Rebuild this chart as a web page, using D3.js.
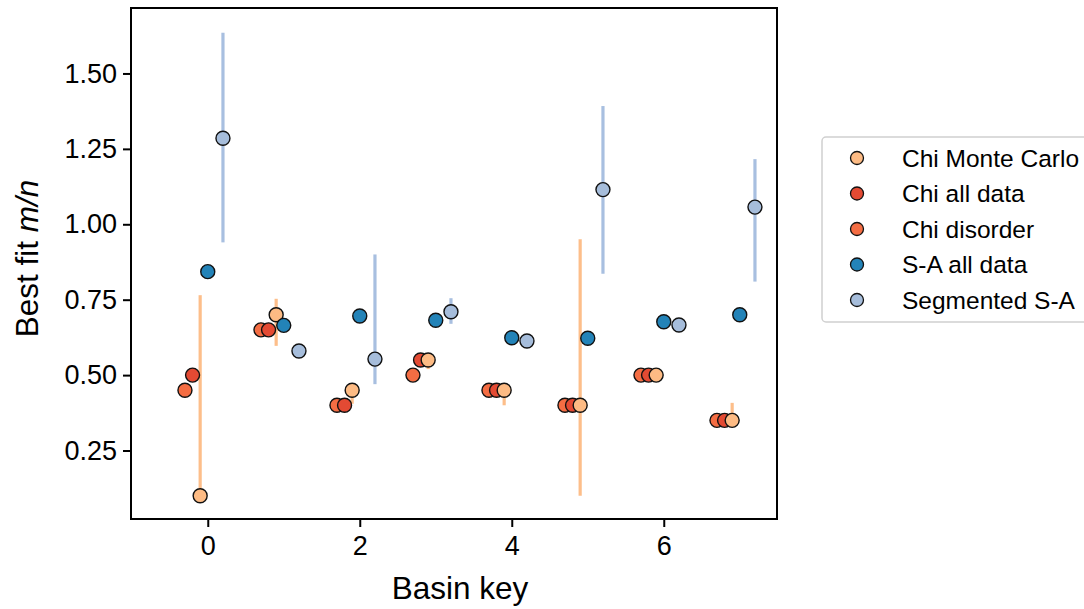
<!DOCTYPE html>
<html>
<head>
<meta charset="utf-8">
<script src="https://cdn.jsdelivr.net/npm/d3@7"></script>
<style>
  body { margin: 0; background: #fff; }
  svg { font-family: "Liberation Sans", Arial, sans-serif; }
</style>
</head>
<body>
<script>
const basinKeys = [0, 1, 2, 3, 4, 5, 6, 7];

const chiMonteCarlo = [0.10, 0.70, 0.45, 0.55, 0.45, 0.40, 0.50, 0.35];
const chiMonteCarloLow = [0.10, 0.597, 0.405, 0.52, 0.40, 0.10, 0.50, 0.35];
const chiMonteCarloHigh = [0.765, 0.753, 0.45, 0.55, 0.45, 0.95, 0.50, 0.408];
const chiAllData = [0.50, 0.65, 0.40, 0.55, 0.45, 0.40, 0.50, 0.35];
const chiDisorder = [0.45, 0.65, 0.40, 0.50, 0.45, 0.40, 0.50, 0.35];
const saAllData = [0.843, 0.665, 0.696, 0.682, 0.624, 0.622, 0.677, 0.70];
const segmentedSA = [1.285, 0.58, 0.553, 0.71, 0.613, 1.115, 0.666, 1.057];
const segmentedLow = [0.94, null, 0.47, 0.67, null, 0.836, null, 0.81];
const segmentedHigh = [1.635, null, 0.90, 0.755, null, 1.392, null, 1.216];

const yTicks = [0.25, 0.50, 0.75, 1.00, 1.25, 1.50];
const xTicks = [0, 2, 4, 6];

// draw order matches the picture, legend order is different
const series = [
  { name: 'Chi disorder', values: chiDisorder, offset: -0.3, color: '#f46d43' },
  { name: 'Chi all data', values: chiAllData, offset: -0.2, color: '#e34a33' },
  { name: 'Chi Monte Carlo', values: chiMonteCarlo, offset: -0.1, color: '#fdbb84',
    low: chiMonteCarloLow, high: chiMonteCarloHigh, barColor: '#fdbb84' },
  { name: 'S-A all data', values: saAllData, offset: 0, color: '#2383b8' },
  { name: 'Segmented S-A', values: segmentedSA, offset: 0.2, color: '#a6bddb',
    low: segmentedLow, high: segmentedHigh, barColor: '#a3bcde' }
];
const legendOrder = ['Chi Monte Carlo', 'Chi all data', 'Chi disorder', 'S-A all data', 'Segmented S-A'];

const width = 1084, height = 609;
const plotLeft = 131, plotRight = 777, plotTop = 8, plotBottom = 519;

const svg = d3.select('body').append('svg')
  .attr('width', width)
  .attr('height', height);

const x = d3.scaleLinear().domain([-1.01, 7.49]).range([plotLeft, plotRight]);
const y = d3.scaleLinear().domain([0.023, 1.717]).range([plotBottom, plotTop]);

// error bars first, circles on top
series.filter(s => s.low).forEach(s => {
  const bars = basinKeys.map((k, i) => ({ k: k, lo: s.low[i], hi: s.high[i] }))
    .filter(d => d.lo != null && d.hi - d.lo > 0.001);
  svg.append('g').selectAll('line')
    .data(bars)
    .enter()
    .append('line')
    .attr('x1', d => x(d.k + s.offset))
    .attr('x2', d => x(d.k + s.offset))
    .attr('y1', d => y(d.lo))
    .attr('y2', d => y(d.hi))
    .attr('stroke', s.barColor)
    .attr('stroke-opacity', 0.95)
    .attr('stroke-width', 3.2);
});

series.forEach(s => {
  svg.append('g').selectAll('circle')
    .data(basinKeys.map((k, i) => ({ k: k, v: s.values[i] })))
    .enter()
    .append('circle')
    .attr('cx', d => x(d.k + s.offset))
    .attr('cy', d => y(d.v))
    .attr('r', 7)
    .attr('fill', s.color)
    .attr('stroke', '#111')
    .attr('stroke-width', 1.4);
});

// axes
const xAxis = svg.append('g')
  .attr('transform', `translate(0,${plotBottom})`)
  .call(d3.axisBottom(x).tickValues(xTicks).tickFormat(d3.format('d')).tickSize(8).tickPadding(9));
const yAxis = svg.append('g')
  .attr('transform', `translate(${plotLeft},0)`)
  .call(d3.axisLeft(y).tickValues(yTicks).tickFormat(d3.format('.2f')).tickSize(8).tickPadding(6));

[xAxis, yAxis].forEach(a => {
  a.select('.domain').remove();
  a.selectAll('line').attr('stroke', '#000').attr('stroke-width', 2);
  a.selectAll('text').attr('font-size', 27).attr('fill', '#000')
    .attr('font-family', '"Liberation Sans", Arial, sans-serif');
});

svg.append('rect')
  .attr('x', plotLeft).attr('y', plotTop)
  .attr('width', plotRight - plotLeft).attr('height', plotBottom - plotTop)
  .attr('fill', 'none').attr('stroke', '#000').attr('stroke-width', 2);

svg.append('text')
  .attr('x', (plotLeft + plotRight) / 2 + 6)
  .attr('y', 599)
  .attr('text-anchor', 'middle')
  .attr('font-size', 31.5)
  .text('Basin key');

const yLabel = svg.append('text')
  .attr('transform', `translate(38,${(plotTop + plotBottom) / 2 - 5}) rotate(-90)`)
  .attr('text-anchor', 'middle')
  .attr('font-size', 31.5);
yLabel.append('tspan').text('Best fit ');
yLabel.append('tspan').attr('font-style', 'italic').text('m/n');

// legend
const legend = svg.append('g');
legend.append('rect')
  .attr('x', 822).attr('y', 137)
  .attr('width', 280).attr('height', 185)
  .attr('rx', 4)
  .attr('fill', '#fff')
  .attr('stroke', '#d0d0d0')
  .attr('stroke-width', 1.5);

const legendItems = legendOrder.map(n => series.find(s => s.name === n));
const rows = legend.selectAll('g.row')
  .data(legendItems)
  .enter()
  .append('g')
  .attr('transform', (d, i) => `translate(0,${158 + i * 35.5})`);
rows.append('circle')
  .attr('cx', 857).attr('cy', 0).attr('r', 6.5)
  .attr('fill', d => d.color)
  .attr('stroke', '#111')
  .attr('stroke-width', 1.3);
rows.append('text')
  .attr('x', 902).attr('y', 8.5)
  .attr('font-size', 24.5)
  .text(d => d.name);
</script>
</body>
</html>
